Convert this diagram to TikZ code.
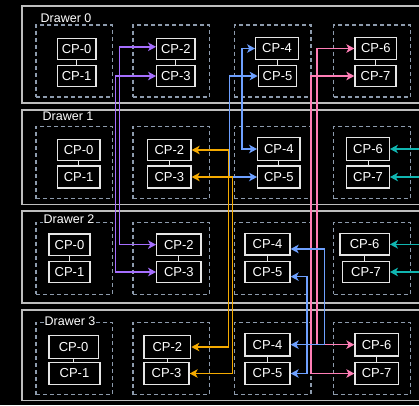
\documentclass[tikz,border=0pt]{standalone}
\usepackage{fontspec}
\setmainfont{Liberation Sans}
\usetikzlibrary{arrows.meta,calc}
\definecolor{drawerc}{HTML}{BEBEBE}
\definecolor{dashc}{HTML}{8D9BAD}
\definecolor{boxc}{HTML}{E6E6E6}
\definecolor{purp}{HTML}{A56EFF}
\definecolor{bluec}{HTML}{6EA0FF}
\definecolor{pinkc}{HTML}{FF7EB6}
\definecolor{orangec}{HTML}{F5AA00}
\definecolor{tealc}{HTML}{10B5B0}
\tikzset{
 drawerbox/.style={draw=drawerc, line width=1.5pt, rectangle, inner sep=0pt},
 grp/.style={draw=dashc, line width=1.1pt, dash pattern=on 4pt off 3pt, rectangle, inner sep=0pt, minimum width=76.7pt, minimum height=72pt},
 cpbox/.style={draw=boxc, line width=1.3pt, rectangle, text=white, inner sep=0pt, font=\fontsize{13}{15}\selectfont},
 dlabel/.style={text=white, fill=black, inner sep=1pt, font=\fontsize{12.5}{15}\selectfont},
 link/.style={draw=boxc, line width=1pt},
 tipx/.tip={Stealth[length=8pt,width=8.5pt,inset=2.2pt]},
 bus/.style={line width=1.6pt, {tipx}-{tipx}},
 feed/.style={line width=1.6pt, -{tipx}},
}
\newcommand\cpnode[6]{\node[cpbox, minimum width=#4pt, minimum height=#5pt] (#1) at (#2,#3) {#6};}
\begin{document}
\begin{tikzpicture}[x=1pt,y=-1pt]
\useasboundingbox (0,0) rectangle (419,405);
\fill[black] (0,0) rectangle (419,405);
\clip (0,0) rectangle (419,405);

% drawers
\node[drawerbox, minimum width=408pt, minimum height=97pt] (dr0) at (226,54.5) {};
\node[drawerbox, minimum width=408pt, minimum height=94.5pt] (dr1) at (226,157.25) {};
\node[drawerbox, minimum width=408pt, minimum height=92pt] (dr2) at (226,257) {};
\node[drawerbox, minimum width=408pt, minimum height=90.5pt] (dr3) at (226,355.25) {};

% dashed groups
\foreach \r/\yy in {0/61,1/162.7,2/258.1,3/358.5}{
  \foreach \g/\xx in {0/74.35,1/171.3,2/272.65,3/372.2}{
    \node[grp] (g\r\g) at (\xx,\yy) {};
  }
}

% drawer labels
\node[dlabel] (lab0) at (66,18) {Drawer 0};
\node[dlabel] (lab1) at (68,116.7) {Drawer 1};
\node[dlabel] (lab2) at (69,219) {Drawer 2};
\node[dlabel] (lab3) at (70,320.7) {Drawer 3};

% drawer 0
\cpnode{a0}{76.65}{48.8}{38.7}{21}{CP-0}
\cpnode{a1}{76.65}{76}{38.7}{21.4}{CP-1}
\cpnode{a2}{175.85}{48.8}{38.3}{21}{CP-2}
\cpnode{a3}{175.85}{76}{38.3}{21.4}{CP-3}
\cpnode{a4}{277}{48.5}{42.6}{21.6}{CP-4}
\cpnode{a5}{277.5}{76}{38.4}{21.4}{CP-5}
\cpnode{a6}{375.85}{48.5}{41.7}{21.6}{CP-6}
\cpnode{a7}{375.5}{76}{41}{21.4}{CP-7}
% drawer 1
\cpnode{b0}{78.65}{150}{42.7}{21.4}{CP-0}
\cpnode{b1}{78.65}{177}{42.7}{22}{CP-1}
\cpnode{b2}{169.35}{150}{43.3}{21.4}{CP-2}
\cpnode{b3}{169.35}{177}{43.3}{22}{CP-3}
\cpnode{b4}{278.85}{149}{42.3}{23.4}{CP-4}
\cpnode{b5}{278.85}{177}{42.3}{22}{CP-5}
\cpnode{b6}{368}{149}{42.6}{23.4}{CP-6}
\cpnode{b7}{368}{177}{42.6}{22}{CP-7}
% drawer 2
\cpnode{c0}{69.5}{244.65}{41}{21.3}{CP-0}
\cpnode{c1}{69.5}{272}{41}{21.4}{CP-1}
\cpnode{c2}{178.85}{244.65}{44.3}{21.3}{CP-2}
\cpnode{c3}{178.85}{272}{44.3}{21.4}{CP-3}
\cpnode{c4}{267.5}{244.35}{45}{21.3}{CP-4}
\cpnode{c5}{267.5}{272}{45}{21.4}{CP-5}
\cpnode{c6}{364.65}{244.35}{49.3}{21.3}{CP-6}
\cpnode{c7}{366}{272}{46.6}{21.4}{CP-7}
% drawer 3
\cpnode{d0}{73.65}{347}{49.3}{22.6}{CP-0}
\cpnode{d1}{74.5}{373.5}{51}{21.6}{CP-1}
\cpnode{d2}{167.35}{347}{46.7}{22.6}{CP-2}
\cpnode{d3}{166.5}{373.5}{45}{21.6}{CP-3}
\cpnode{d4}{267.5}{344.65}{45}{22.7}{CP-4}
\cpnode{d5}{267.5}{373.5}{45}{21.6}{CP-5}
\cpnode{d6}{376.65}{344.65}{43.3}{22.7}{CP-6}
\cpnode{d7}{376.65}{373.5}{43.3}{21.6}{CP-7}

% pair links
\foreach \p in {a,b,c,d}{
  \draw[link] (\p0.south) -- (\p0.south |- \p1.north);
  \draw[link] (\p2.south) -- (\p2.south |- \p3.north);
  \draw[link] (\p4.south) -- (\p4.south |- \p5.north);
  \draw[link] (\p6.south) -- (\p6.south |- \p7.north);
}

% bus x positions
\coordinate (pv1) at (119.3,0);
\coordinate (pv2) at (115.5,0);
\coordinate (bv1) at (242,0);
\coordinate (bv2) at (229.3,0);
\coordinate (bv3) at (324.3,0);
\coordinate (bv4) at (306.7,0);
\coordinate (kv1) at (317,0);
\coordinate (kv2) at (311,0);
\coordinate (ov1) at (228.3,0);
\coordinate (ov2) at (232.3,0);
\coordinate (edgeR) at (430,0);
\coordinate (a2in) at ([yshift=2pt]a2.west);
\coordinate (c4in) at ([yshift=-4.6pt]c4.east);
\coordinate (c5in) at ([yshift=-4.6pt]c5.east);

% pink
\draw[bus,pinkc] (a6.west) -- (a6.west -| kv1) |- (d6.west);
\draw[bus,pinkc] (a7.west) -- (a7.west -| kv2) |- (d7.west);
% purple
\draw[bus,purp] (a2in) -- (a2in -| pv1) |- (c2.west);
\draw[bus,purp] (a3.west) -- (a3.west -| pv2) |- (c3.west);
% blue
\draw[bus,bluec] (a4.west) -- (a4.west -| bv1) |- (b4.west);
\draw[bus,bluec] (a5.west) -- (a5.west -| bv2) |- (b5.west);
\draw[bus,bluec] (c4in) -- (c4in -| bv3) |- (d4.east);
\draw[bus,bluec] (c5in) -- (c5in -| bv4) |- (d5.east);
% orange
\draw[bus,orangec] (b2.east) -- (b2.east -| ov1) |- (d2.east);
\draw[bus,orangec] (b3.east) -- (b3.east -| ov2) |- (d3.east);
% teal
\draw[feed,tealc] (b6.east -| edgeR) -- (b6.east);
\draw[feed,tealc] (b7.east -| edgeR) -- (b7.east);
\draw[feed,tealc] (c6.east -| edgeR) -- (c6.east);
\draw[feed,tealc] (c7.east -| edgeR) -- (c7.east);
\end{tikzpicture}
\end{document}
